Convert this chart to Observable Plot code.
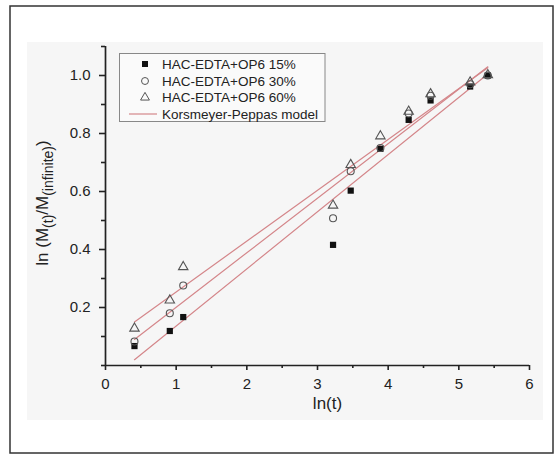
<!DOCTYPE html>
<html>
<head>
<meta charset="utf-8">
<script src="https://cdn.jsdelivr.net/npm/d3@7"></script>
<script src="https://cdn.jsdelivr.net/npm/@observablehq/plot@0.6"></script>
<style>
  html, body { margin: 0; padding: 0; background: #fff; }
  #chart { width: 556px; height: 455px; }
</style>
</head>
<body>
<div id="chart"></div>
<script>
// ---- data ----
const lnT = [0.41, 0.91, 1.10, 3.22, 3.47, 3.89, 4.29, 4.60, 5.16, 5.41];
const y15 = [0.067, 0.119, 0.167, 0.416, 0.603, 0.747, 0.847, 0.914, 0.962, 1.000];
const y30 = [0.083, 0.180, 0.276, 0.508, 0.670, 0.750, 0.869, 0.930, 0.970, 1.000];
const y60 = [0.128, 0.225, 0.340, 0.552, 0.692, 0.791, 0.876, 0.936, 0.977, 1.002];
const seriesNames = ["HAC-EDTA+OP6 15%", "HAC-EDTA+OP6 30%", "HAC-EDTA+OP6 60%", "Korsmeyer-Peppas model"];
// Korsmeyer-Peppas fitted lines: endpoints
const fitX = [0.41, 5.41];
const fit15 = [0.020, 1.005];
const fit30 = [0.090, 1.030];
const fit60 = [0.150, 1.027];
const xTicks = [0, 1, 2, 3, 4, 5, 6];
const xMinor = [0.5, 1.5, 2.5, 3.5, 4.5, 5.5];
const yTicks = [0.2, 0.4, 0.6, 0.8, 1.0];
const yMinor = [0, 0.1, 0.3, 0.5, 0.7, 0.9, 1.1];

const toPts = ys => lnT.map((x, i) => ({x, y: ys[i]}));
const pts15 = toPts(y15), pts30 = toPts(y30), pts60 = toPts(y60);
const fits = [["15", fit15], ["30", fit30], ["60", fit60]]
  .flatMap(([s, ys]) => fitX.map((x, i) => ({series: s, x, y: ys[i]})));

const lineColor = "#d4868a";
const axisColor = "#222";
const font = "'Liberation Sans', Arial, sans-serif";

const chart = Plot.plot({
  width: 556, height: 455,
  marginTop: 46, marginRight: 27, marginBottom: 90, marginLeft: 105,
  style: {fontFamily: font, fontSize: "15px", background: "transparent", color: "#222"},
  x: {domain: [0, 6]},
  y: {domain: [0, 1.1]},
  marks: [
    Plot.line(fits, {x: "x", y: "y", z: "series", stroke: lineColor, strokeWidth: 1.2}),
    Plot.dot(pts15, {x: "x", y: "y", symbol: "square", fill: "#111", stroke: "none", r: 3.5}),
    Plot.dot(pts30, {x: "x", y: "y", symbol: "circle", fill: "none", stroke: "#555", strokeWidth: 1.1, r: 3.5}),
    Plot.dot(pts60, {x: "x", y: "y", symbol: "triangle", fill: "none", stroke: "#555", strokeWidth: 1.1, r: 3.5}),
    Plot.ruleY([0], {stroke: axisColor, strokeWidth: 1.7}),
    Plot.ruleX([0], {stroke: axisColor, strokeWidth: 1.7}),
    Plot.axisX({ticks: xTicks, tickSize: 5, tickPadding: 8, tickFormat: d => String(d), label: null, stroke: axisColor, strokeWidth: 1.6}),
    Plot.axisX({ticks: xMinor, tickSize: 3, tickFormat: () => "", label: null, stroke: axisColor, strokeWidth: 1.6}),
    Plot.axisY({ticks: yTicks, tickSize: 6, tickPadding: 9, tickFormat: d3.format(".1f"), label: null, stroke: axisColor, strokeWidth: 1.6}),
    Plot.axisY({ticks: yMinor, tickSize: 4, tickFormat: () => "", label: null, stroke: axisColor, strokeWidth: 1.6}),
    Plot.text(["ln(t)"], {text: d => d, frameAnchor: "bottom", dy: 43, dx: 10, fontSize: 17, fill: "#222"})
  ]
});

const svg = d3.select(chart);
// background panel and outer border (decoration)
svg.insert("rect", ":first-child")
  .attr("x", 27).attr("y", 42).attr("width", 516).attr("height", 378)
  .attr("fill", "#f6f6f6");
svg.insert("rect", ":first-child")
  .attr("x", 10).attr("y", 6).attr("width", 543).attr("height", 447)
  .attr("fill", "#fff").attr("stroke", "#333").attr("stroke-width", 1.5);

// y axis title with subscripts
const yl = svg.append("text")
  .attr("transform", "translate(48,203) rotate(-90)")
  .attr("text-anchor", "middle")
  .attr("font-family", font).attr("font-size", 17).attr("fill", "#222");
yl.append("tspan").text("ln (M");
yl.append("tspan").attr("dy", 5).attr("font-size", 14).text("(t)");
yl.append("tspan").attr("dy", -5).text("/M");
yl.append("tspan").attr("dy", 5).attr("font-size", 14).text("(infinite)");
yl.append("tspan").attr("dy", -5).text(")");

// legend
const lg = svg.append("g").attr("font-family", font).attr("font-size", 13.5)
  .attr("fill", "#222").attr("text-anchor", "start");
lg.append("rect").attr("x", 119.5).attr("y", 53.5).attr("width", 205.5).attr("height", 68)
  .attr("fill", "#fafafa").attr("stroke", "#888").attr("stroke-width", 1);
const rowY = [64, 81, 97.5, 114];
const sym = [d3.symbolSquare, d3.symbolCircle, d3.symbolTriangle];
const symSize = [36, 38, 34];
seriesNames.forEach((name, i) => {
  const y = rowY[i];
  if (i < 3) {
    lg.append("path")
      .attr("transform", `translate(145,${y})`)
      .attr("d", d3.symbol(sym[i], symSize[i])())
      .attr("fill", i === 0 ? "#111" : "none")
      .attr("stroke", i === 0 ? "none" : "#555");
  } else {
    lg.append("line").attr("x1", 129).attr("x2", 157).attr("y1", y).attr("y2", y)
      .attr("stroke", lineColor).attr("stroke-width", 1.2);
  }
  lg.append("text").attr("x", 162).attr("y", y).attr("dy", "0.35em").attr("text-anchor", "start").text(name);
});

document.getElementById("chart").appendChild(chart);
</script>
</body>
</html>
